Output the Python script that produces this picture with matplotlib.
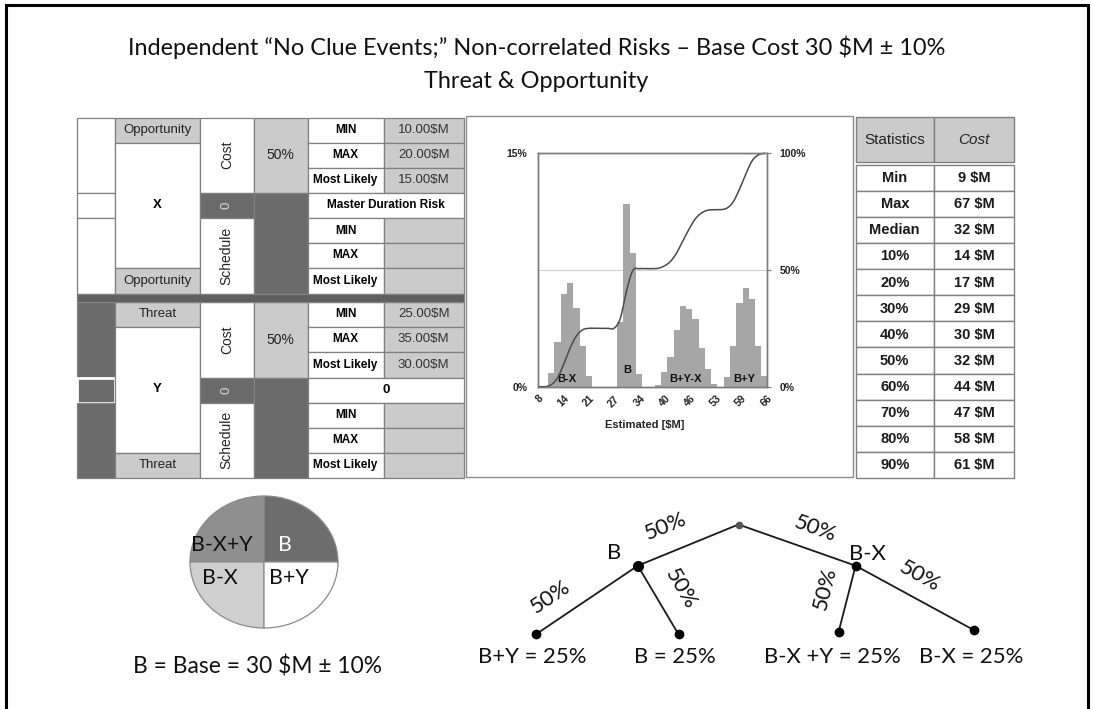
import numpy as np
import matplotlib
matplotlib.use("Agg")
import matplotlib.pyplot as plt
from matplotlib.patches import Rectangle

plt.rcParams['text.parse_math'] = False

# ---------------- data ----------------
title_lines = ['Independent \u201cNo Clue Events;\u201d Non-correlated Risks \u2013 Base Cost 30 $M \u00b1 10%',
               'Threat & Opportunity']

risk_names = ['X', 'Y']
risk_kinds = ['Opportunity', 'Threat']
risk_prob = ['50%', '50%']
cost_min = [10.0, 25.0]
cost_max = [20.0, 35.0]
cost_likely = [15.0, 30.0]
duration_row_text = ['Master Duration Risk', '0']
duration_flag = ['0', '0']

# simulated total-cost histogram (percent of trials per bin)
hist_first_edge = 7.32
hist_bin_width = 1.59
cost_freq_pct = [0, 0, 0.86, 2.89, 5.96, 6.69, 5.06, 2.61, 0.66, 0, 0, 0, 0,
                 4.14, 11.74, 8.57, 0.81, 0, 0,
                 0.13, 0.96, 1.93, 3.66, 5.16, 5.01, 4.33, 2.46, 1.14, 0.17, 0,
                 0.64, 2.61, 5.36, 6.32, 5.64, 2.61, 0.71]
x_tick_labels = ['8', '14', '21', '27', '34', '40', '46', '53', '59', '66']
group_labels = ['B-X', 'B', 'B+Y-X', 'B+Y']

stat_names = ['Min', 'Max', 'Median', '10%', '20%', '30%', '40%', '50%', '60%', '70%', '80%', '90%']
stat_cost = [9, 67, 32, 14, 17, 29, 30, 32, 44, 47, 58, 61]

pie_labels = ['B', 'B-X+Y', 'B-X', 'B+Y']
pie_shares = [25, 25, 25, 25]

branch_prob = 50
outcome_labels = ['B+Y', 'B', 'B-X +Y', 'B-X']
outcome_prob = [25, 25, 25, 25]

# ---------------- canvas ----------------
W, H = 1093, 709
fig = plt.figure(figsize=(W / 100, H / 100), dpi=100)
fig.patch.set_facecolor('white')
bg = fig.add_axes([0, 0, 1, 1])
bg.set_xlim(0, W)
bg.set_ylim(H, 0)
bg.axis('off')
renderer = fig.canvas.get_renderer()

TABLE_FONT = ['Liberation Sans', 'DejaVu Sans']
SLIDE_FONT = ['Lato', 'DejaVu Sans']
LINE = '#808080'
LIGHT = '#cbcbcb'
DARK = '#6b6b6b'


def fit_size(s, width_px, **kw):
    t = bg.text(0, 0, s, fontsize=10, **kw)
    w = t.get_window_extent(renderer).width
    t.remove()
    return 10 * width_px / w


# outer frame
bg.plot([6, 6, 1088, 1088], [H + 5, 4.5, 4.5, H + 5], color='black', lw=2.2,
        solid_joinstyle='miter', clip_on=False)

# title
fs = fit_size(title_lines[0], 817, family=SLIDE_FONT)
bg.text(536.5, 47, title_lines[0], ha='center', va='center', fontsize=fs,
        family=SLIDE_FONT, color='#111111')
bg.text(536.5, 82, title_lines[1], ha='center', va='center', fontsize=fs,
        family=SLIDE_FONT, color='#111111')

# ---------------- risk register table ----------------
col_x = [77, 115, 200, 253.5, 307.5, 383.5, 464]
sections = [[117.5, 142.5, 167.5, 192.5, 218, 243, 268, 293.5],
            [301.5, 326.5, 352, 377.5, 402.5, 427.5, 452.5, 477.5]]


def cell(c0, c1, ry, r0, r1, fill, text='', color='black', rot=0,
         weight='normal', size=9.5, edge=LINE, lw=0.9, style='normal'):
    x0, x1 = col_x[c0], col_x[c1]
    y0, y1 = ry[r0], ry[r1]
    bg.add_patch(Rectangle((x0, y0), x1 - x0, y1 - y0, facecolor=fill,
                           edgecolor=edge, lw=lw))
    if text:
        bg.text((x0 + x1) / 2, (y0 + y1) / 2, text, ha='center', va='center',
                rotation=rot, color=color, fontsize=size, fontweight=weight,
                family=TABLE_FONT, fontstyle=style)


for s in range(2):
    ry = sections[s]
    a_fill = 'white' if s == 0 else DARK
    cell(0, 1, ry, 0, 3, a_fill)
    cell(0, 1, ry, 3, 4, a_fill, edge='white' if s else LINE, lw=2 if s else 0.9)
    cell(0, 1, ry, 4, 7, a_fill)
    cell(1, 2, ry, 0, 1, LIGHT, risk_kinds[s], color='#222222')
    cell(1, 2, ry, 1, 6, 'white', risk_names[s], weight='bold')
    cell(1, 2, ry, 6, 7, LIGHT, risk_kinds[s], color='#222222')
    cell(2, 3, ry, 0, 3, 'white', 'Cost', rot=90, size=10, color='#222222')
    cell(2, 3, ry, 3, 4, DARK, duration_flag[s], rot=90, color='#d8d8d8')
    cell(2, 3, ry, 4, 7, 'white', 'Schedule', rot=90, size=10, color='#222222')
    cell(3, 4, ry, 0, 3, LIGHT, risk_prob[s], size=10, color='#222222')
    cell(3, 4, ry, 3, 7, DARK)
    vals = [cost_min[s], cost_max[s], cost_likely[s]]
    for r, lab in enumerate(['MIN', 'MAX', 'Most Likely']):
        cell(4, 5, ry, r, r + 1, 'white', lab, weight='bold', size=8.5)
        cell(5, 6, ry, r, r + 1, LIGHT, f'{vals[r]:.2f}$M', color='#333333')
    cell(4, 6, ry, 3, 4, 'white', duration_row_text[s], weight='bold',
         size=8.5 if s == 0 else 9.5)
    for r, lab in enumerate(['MIN', 'MAX', 'Most Likely']):
        cell(4, 5, ry, 4 + r, 5 + r, 'white', lab, weight='bold', size=8.5)
        cell(5, 6, ry, 4 + r, 5 + r, LIGHT)

# band between the two risks
bg.add_patch(Rectangle((col_x[0], 293.5), col_x[-1] - col_x[0], 8,
                       facecolor='#5f5f5f', edgecolor=LINE, lw=0.9))

# ---------------- statistics table ----------------
sx = [855.5, 934, 1014]
for c in range(2):
    bg.add_patch(Rectangle((sx[c], 117), sx[c + 1] - sx[c], 45,
                           facecolor=LIGHT, edgecolor=LINE, lw=1))
bg.text((sx[0] + sx[1]) / 2, 139.5, 'Statistics', ha='center', va='center',
        fontsize=11, family=TABLE_FONT, color='#222222')
bg.text((sx[1] + sx[2]) / 2, 139.5, 'Cost', ha='center', va='center',
        fontsize=11, family=TABLE_FONT, fontstyle='italic', color='#222222')
row_top = 164.5
pitch = (478 - row_top) / len(stat_names)
for i, (nm, v) in enumerate(zip(stat_names, stat_cost)):
    y0 = row_top + i * pitch
    for c, txt in enumerate([nm, f'{v} $M']):
        bg.add_patch(Rectangle((sx[c], y0), sx[c + 1] - sx[c], pitch,
                               facecolor='white', edgecolor=LINE, lw=1))
        bg.text((sx[c] + sx[c + 1]) / 2, y0 + pitch / 2 + 0.5, txt, ha='center',
                va='center', fontsize=10.5, fontweight='bold',
                family=TABLE_FONT, color='#1a1a1a')

# ---------------- histogram + cumulative curve ----------------
bg.add_patch(Rectangle((466, 116), 853 - 466, 477 - 116, facecolor='white',
                       edgecolor='#8c8c8c', lw=1))

px_l, px_r, px_t, px_b = 538.3, 767, 153.3, 386.7
ax = fig.add_axes([px_l / W, 1 - px_b / H, (px_r - px_l) / W, (px_b - px_t) / H])
ax.set_facecolor('none')
freq = np.array(cost_freq_pct)
centers = hist_first_edge + hist_bin_width * (np.arange(len(freq)) + 0.5)
ax.bar(centers, freq, width=hist_bin_width, color='#a6a6a6', edgecolor='none', zorder=2)
ax.axhline(7.5, color='#cfcfcf', lw=0.8, zorder=1)
ax.set_xlim(8, 66)
ax.set_ylim(0, 15)
for sp in ax.spines.values():
    sp.set_color('#7a7a7a')
    sp.set_linewidth(1)
tick_pos = np.linspace(8, 66, len(x_tick_labels))
ax.set_xticks(tick_pos)
ax.set_xticklabels(x_tick_labels, rotation=45, ha='right', rotation_mode='anchor',
                   fontsize=7.5, fontweight='bold', family=TABLE_FONT, color='#222222')
ax.set_xticks(tick_pos[::2], minor=True)
ax.tick_params(axis='x', which='major', length=0, pad=5)
ax.tick_params(axis='x', which='minor', length=3, color='#7a7a7a', direction='out')
ax.set_yticks([0, 15])
ax.set_yticklabels(['0%', '15%'], fontsize=7.5, fontweight='bold',
                   family=TABLE_FONT, color='#222222')
ax.tick_params(axis='y', length=0, pad=8)

label_x = [15.3, 30.5, 45.4, 60.2]
label_y = [0.2, 0.75, 0.2, 0.2]
for lab, lx, ly in zip(group_labels, label_x, label_y):
    ax.text(lx, ly, lab, ha='center', va='bottom', fontsize=8, fontweight='bold',
            family=TABLE_FONT, color='#111111', zorder=5)


def catmull_rom(xs, ys, n=14):
    P = np.column_stack([xs, ys])
    P = np.vstack([P[0], P, P[-1]])
    pts = []
    t = np.linspace(0, 1, n, endpoint=False)[:, None]
    for i in range(1, len(P) - 2):
        p0, p1, p2, p3 = P[i - 1], P[i], P[i + 1], P[i + 2]
        seg = 0.5 * (2 * p1 + (-p0 + p2) * t + (2 * p0 - 5 * p1 + 4 * p2 - p3) * t ** 2
                     + (-p0 + 3 * p1 - 3 * p2 + p3) * t ** 3)
        pts.append(seg)
    pts.append(P[-2][None])
    return np.vstack(pts)


cum = np.cumsum(freq) / freq.sum() * 100
curve = catmull_rom(centers, cum)
tw = ax.twinx()
tw.plot(curve[:, 0], curve[:, 1], color='#4a4a4a', lw=1.1, clip_on=False)
tw.set_ylim(0, 100)
tw.set_xlim(8, 66)
tw.set_yticks([0, 50, 100])
tw.set_yticklabels(['0%', '50%', '100%'], fontsize=7.5, fontweight='bold',
                   family=TABLE_FONT, color='#222222')
tw.tick_params(axis='y', length=3, color='#7a7a7a', pad=6)
for sp in tw.spines.values():
    sp.set_color('#7a7a7a')
    sp.set_linewidth(1)

bg.text(645, 425, 'Estimated [$M]', ha='center', va='center', fontsize=8,
        fontweight='bold', family=TABLE_FONT, color='#222222')

# ---------------- pie of outcomes ----------------
pax = fig.add_axes([190 / W, 1 - 628 / H, 148 / W, 132 / H])
wedges, _ = pax.pie(pie_shares, colors=['#6d6d6d', '#8f8f8f', '#cfcfcf', 'white'],
                    startangle=0, counterclock=True,
                    wedgeprops=dict(edgecolor='#8a8a8a', linewidth=0.9))
for w in wedges:
    w.set_clip_on(False)
pax.set_aspect('auto')
pax.set_xlim(-1, 1)
pax.set_ylim(-1, 1)

pie_fs = fit_size('B-X+Y', 61, family=SLIDE_FONT)
pie_pos = {'B': (285, 545), 'B-X+Y': (222, 545), 'B-X': (219.5, 578), 'B+Y': (288.5, 578)}
for lab in pie_labels:
    x, y = pie_pos[lab]
    pax.text(x, y, lab, transform=bg.transData, ha='center', va='center',
             fontsize=pie_fs, family=SLIDE_FONT, clip_on=False,
             color='white' if lab == 'B' else '#111111')

cap = 'B = Base = 30 $M \u00b1 10%'
bg.text(257.5, 667, cap, ha='center', va='center',
        fontsize=fit_size(cap, 247, family=SLIDE_FONT), family=SLIDE_FONT, color='#111111')

# ---------------- probability tree ----------------
nodes = {'root': (738.5, 524.5), 'B': (637.8, 565.7), 'BX': (855.6, 565.7),
         'l0': (535.9, 634.3), 'l1': (678.5, 634.3), 'l2': (838.5, 632.3), 'l3': (973.7, 630)}
edges = [('root', 'B'), ('root', 'BX'), ('B', 'l0'), ('B', 'l1'), ('BX', 'l2'), ('BX', 'l3')]
for a, b in edges:
    (x0, y0), (x1, y1) = nodes[a], nodes[b]
    bg.plot([x0, x1], [y0, y1], color='#1a1a1a', lw=1.3, solid_capstyle='round')
bg.plot(*nodes['root'], 'o', ms=4.5, color='#555555')
bg.plot(*nodes['B'], 'o', ms=7, color='black')
bg.plot(*nodes['BX'], 'o', ms=6, color='black')
for k in ['l0', 'l1', 'l2', 'l3']:
    bg.plot(*nodes[k], 'o', ms=6, color='black')

tree_fs = fit_size(f'{outcome_labels[0]} = {outcome_prob[0]}%', 108, family=SLIDE_FONT)
leaf_x = [532, 675, 832, 971.5]
for lab, p, x in zip(outcome_labels, outcome_prob, leaf_x):
    bg.text(x, 657, f'{lab} = {p}%', ha='center', va='center', fontsize=tree_fs,
            family=SLIDE_FONT, color='#111111')
bg.text(613.7, 553.3, 'B', ha='center', va='center', fontsize=tree_fs,
        family=SLIDE_FONT, color='#111111')
bg.text(867.4, 554.3, 'B-X', ha='center', va='center', fontsize=tree_fs,
        family=SLIDE_FONT, color='#111111')
branch_text = [(665.6, 526.7, 22), (815.6, 528.3, -20), (550.7, 596.7, 34),
               (680.4, 588.3, -60), (824.8, 588.3, 76), (919.3, 576.7, -29)]
for x, y, rot in branch_text:
    bg.text(x, y, f'{branch_prob}%', ha='center', va='center', rotation=rot,
            rotation_mode='anchor', fontsize=tree_fs, family=SLIDE_FONT, color='#111111')

fig.savefig('out.png', dpi=100, facecolor='white')
